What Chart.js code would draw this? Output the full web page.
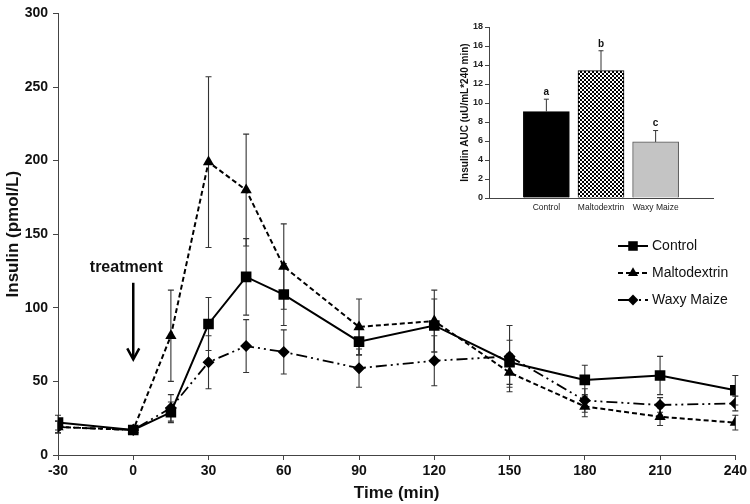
<!DOCTYPE html>
<html>
<head>
<meta charset="utf-8">
<title>Insulin response</title>
<script src="https://cdn.jsdelivr.net/npm/chart.js@4.4.1/dist/chart.umd.min.js"></script>
<style>
  html, body { margin: 0; padding: 0; background: #fff; }
  #wrap { position: relative; width: 750px; height: 504px; }
  #main { position: absolute; left: 0; top: 0; }
  #inset { position: absolute; left: 450px; top: 15px; }
</style>
</head>
<body>
<div id="wrap">
  <canvas id="main" width="750" height="504"></canvas>
  <canvas id="inset" width="275" height="205"></canvas>
</div>
<script>
// ============================================
// Insulin time course + AUC inset
// ============================================

const times = [-30, 0, 15, 30, 45, 60, 90, 120, 150, 180, 210, 240];
const timeTicks = [-30, 0, 30, 60, 90, 120, 150, 180, 210, 240];
const insulinTicks = [0, 50, 100, 150, 200, 250, 300];

const control = [22, 17, 29, 89, 121, 109, 77, 88, 63, 51, 54, 44];
const controlErr = [5, 3, 7, 18, 26, 21, 9, 18, 15, 10, 13, 10];
const malto = [19, 17, 81, 199, 180, 128, 87, 91, 56, 33, 26, 22];
const maltoErr = [4, 3, 31, 58, 38, 29, 19, 21, 13, 7, 6, 5];
const waxy = [19, 17, 32, 63, 74, 70, 59, 64, 67, 37, 34, 35];
const waxyErr = [4, 3, 9, 18, 18, 15, 13, 17, 21, 8, 5, 5];

const aucCats = ['Control', 'Maltodextrin', 'Waxy Maize'];
const aucValues = [9.1, 13.4, 5.9];
const aucErr = [1.3, 2.1, 1.2];
const aucLetters = ['a', 'b', 'c'];
const aucTicks = [0, 2, 4, 6, 8, 10, 12, 14, 16, 18];

const FONT = "'Liberation Sans', Arial, sans-serif";
const INK = '#111';
Chart.defaults.font.family = FONT;
Chart.defaults.color = INK;

function drawMarker(ctx, style, x, y, r) {
  ctx.beginPath();
  if (style === 'rect') {
    const s = r * Math.SQRT1_2;
    ctx.rect(x - s, y - s, 2 * s, 2 * s);
  } else if (style === 'triangle') {
    ctx.moveTo(x, y - r);
    ctx.lineTo(x + r * 0.866, y + r * 0.5);
    ctx.lineTo(x - r * 0.866, y + r * 0.5);
    ctx.closePath();
  } else {
    ctx.moveTo(x - r, y); ctx.lineTo(x, y - r);
    ctx.lineTo(x + r, y); ctx.lineTo(x, y + r);
    ctx.closePath();
  }
  ctx.fill();
}

function makeSeries(label, values, errors, dash, style, radius, width) {
  return {
    label, errors,
    data: times.map((t, i) => ({ x: t, y: values[i] })),
    borderColor: '#000', backgroundColor: '#000', borderWidth: width, borderDash: dash,
    pointStyle: style, pointRadius: radius, pointBackgroundColor: '#000', pointBorderColor: '#000',
    pointBorderWidth: 0, tension: 0, fill: false
  };
}

const errorBars = {
  id: 'errorBars',
  beforeDatasetsDraw(chart) {
    const { ctx, scales: { y } } = chart;
    ctx.save();
    ctx.strokeStyle = '#333'; ctx.lineWidth = 1.1; ctx.setLineDash([]);
    chart.data.datasets.forEach((ds, i) => {
      const meta = chart.getDatasetMeta(i);
      ds.errors.forEach((e, j) => {
        const px = meta.data[j].x;
        const top = y.getPixelForValue(ds.data[j].y + e);
        const bot = y.getPixelForValue(ds.data[j].y - e);
        ctx.beginPath();
        ctx.moveTo(px, top); ctx.lineTo(px, bot);
        ctx.moveTo(px - 3, top); ctx.lineTo(px + 3, top);
        ctx.moveTo(px - 3, bot); ctx.lineTo(px + 3, bot);
        ctx.stroke();
      });
    });
    ctx.restore();
  }
};

const sideLegend = {
  id: 'sideLegend',
  afterDraw(chart) {
    const ctx = chart.ctx;
    ctx.save();
    chart.data.datasets.forEach((ds, i) => {
      const y = 246 + i * 27;
      ctx.strokeStyle = '#000'; ctx.fillStyle = '#000';
      ctx.lineWidth = ds.borderWidth; ctx.setLineDash(ds.borderDash);
      ctx.beginPath(); ctx.moveTo(618, y); ctx.lineTo(648, y); ctx.stroke();
      ctx.setLineDash([]);
      drawMarker(ctx, ds.pointStyle, 633, y, ds.pointRadius * 0.9);
      ctx.font = `14px ${FONT}`; ctx.textBaseline = 'middle'; ctx.textAlign = 'left';
      ctx.fillStyle = INK;
      ctx.fillText(ds.label, 652, y);
    });
    ctx.restore();
  }
};

const treatmentNote = {
  id: 'treatmentNote',
  afterDraw(chart) {
    const { ctx, scales: { x, y } } = chart;
    const px = x.getPixelForValue(0);
    ctx.save();
    ctx.font = `bold 16px ${FONT}`; ctx.textAlign = 'center'; ctx.textBaseline = 'middle';
    ctx.fillStyle = INK;
    ctx.fillText('treatment', px - 7, y.getPixelForValue(127));
    const y1 = y.getPixelForValue(117), y2 = y.getPixelForValue(65);
    ctx.strokeStyle = '#000'; ctx.lineWidth = 2.5;
    ctx.beginPath(); ctx.moveTo(px, y1); ctx.lineTo(px, y2 - 1); ctx.stroke();
    ctx.beginPath(); ctx.moveTo(px - 6, y2 - 11); ctx.lineTo(px, y2); ctx.lineTo(px + 6, y2 - 11); ctx.stroke();
    ctx.restore();
  }
};

new Chart(document.getElementById('main'), {
  type: 'line',
  data: {
    datasets: [
      makeSeries('Control', control, controlErr, [], 'rect', 7.5, 2),
      makeSeries('Maltodextrin', malto, maltoErr, [5, 3], 'triangle', 6.5, 2),
      makeSeries('Waxy Maize', waxy, waxyErr, [11, 4, 2, 4, 2, 4], 'rectRot', 6, 1.8)
    ]
  },
  options: {
    responsive: false, animation: false, devicePixelRatio: 1,
    layout: { padding: { top: 8, right: 14, left: 0, bottom: 0 } },
    plugins: { legend: { display: false }, tooltip: { enabled: false } },
    scales: {
      x: {
        type: 'linear', min: -30, max: 240,
        afterBuildTicks: s => { s.ticks = timeTicks.map(v => ({ value: v })); },
        ticks: { font: { size: 14, weight: 'bold' }, color: INK, padding: 3, maxRotation: 0, autoSkip: false },
        grid: { drawOnChartArea: false, tickLength: 5, color: '#444' },
        border: { color: '#444', width: 1 },
        title: { display: true, text: 'Time (min)', font: { size: 17, weight: 'bold' }, color: INK, padding: { top: 1, bottom: 0 } },
        afterFit: s => { s.height = 49; }
      },
      y: {
        min: 0, max: 300,
        afterBuildTicks: s => { s.ticks = insulinTicks.map(v => ({ value: v })); },
        ticks: { font: { size: 14, weight: 'bold' }, color: INK, padding: 5 },
        grid: { drawOnChartArea: false, tickLength: 5, color: '#444' },
        border: { color: '#444', width: 1 },
        title: { display: true, text: 'Insulin (pmol/L)', font: { size: 17, weight: 'bold' }, color: INK, padding: { top: 3, bottom: 0 } },
        afterFit: s => { s.width = 58; }
      }
    }
  },
  plugins: [errorBars, sideLegend, treatmentNote]
});

// --- inset: AUC bars ---
function checkerPattern() {
  const c = document.createElement('canvas');
  c.width = 4; c.height = 4;
  const g = c.getContext('2d');
  g.fillStyle = '#000'; g.fillRect(0, 0, 4, 4);
  g.fillStyle = '#fff'; g.fillRect(0, 0, 2, 2); g.fillRect(2, 2, 2, 2);
  return g.createPattern(c, 'repeat');
}

const aucMarks = {
  id: 'aucMarks',
  afterDatasetsDraw(chart) {
    const { ctx, scales: { y } } = chart;
    const meta = chart.getDatasetMeta(0);
    ctx.save();
    ctx.strokeStyle = '#333'; ctx.lineWidth = 1;
    ctx.font = `bold 10px ${FONT}`; ctx.textAlign = 'center'; ctx.textBaseline = 'middle';
    ctx.fillStyle = INK;
    meta.data.forEach((bar, i) => {
      const top = y.getPixelForValue(aucValues[i] + aucErr[i]);
      ctx.beginPath();
      ctx.moveTo(bar.x, bar.y); ctx.lineTo(bar.x, top);
      ctx.moveTo(bar.x - 2.5, top); ctx.lineTo(bar.x + 2.5, top);
      ctx.stroke();
      ctx.fillText(aucLetters[i], bar.x, top - 7);
    });
    ctx.restore();
  }
};

new Chart(document.getElementById('inset'), {
  type: 'bar',
  data: {
    datasets: [{
      data: aucValues.map((v, i) => ({ x: i + 1, y: v })),
      backgroundColor: ['#000', checkerPattern(), '#c4c4c4'],
      borderColor: ['#000', '#000', '#555'],
      borderWidth: 1, barThickness: 46
    }]
  },
  options: {
    responsive: false, animation: false, devicePixelRatio: 1,
    layout: { padding: { top: 12, right: 12, left: 0, bottom: 0 } },
    plugins: { legend: { display: false }, tooltip: { enabled: false } },
    scales: {
      x: {
        type: 'linear', min: -0.05, max: 4.05, offset: false,
        afterBuildTicks: s => { s.ticks = aucCats.map((c, i) => ({ value: i + 1 })); },
        ticks: { callback: v => aucCats[v - 1], font: { size: 8.5 }, color: '#222', padding: 5, maxRotation: 0, autoSkip: false },
        grid: { offset: false, drawOnChartArea: false, drawTicks: false },
        border: { color: '#444', width: 1 },
        afterFit: s => { s.height = 22; }
      },
      y: {
        min: 0, max: 18,
        afterBuildTicks: s => { s.ticks = aucTicks.map(v => ({ value: v })); },
        ticks: { font: { size: 9, weight: 'bold' }, color: '#222', padding: 2 },
        grid: { drawOnChartArea: false, tickLength: 4, color: '#444' },
        border: { color: '#444', width: 1 },
        title: { display: true, text: 'Insulin AUC (uU/mL*240 min)', font: { size: 10, weight: 'bold' }, color: INK, padding: { top: 9, bottom: 0 } },
        afterFit: s => { s.width = 39; }
      }
    }
  },
  plugins: [aucMarks]
});
</script>
</body>
</html>
